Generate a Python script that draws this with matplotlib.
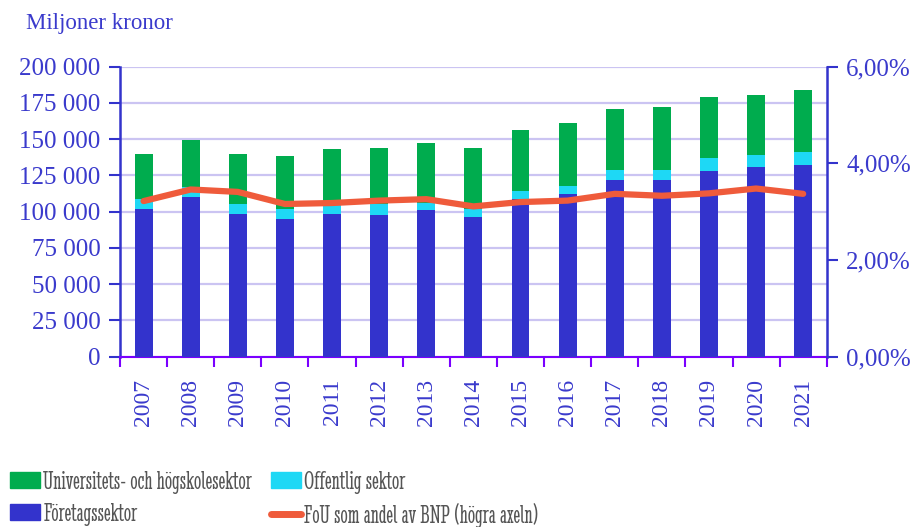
import matplotlib
matplotlib.use("Agg")
import matplotlib.pyplot as plt
import numpy as np
from matplotlib.lines import Line2D
from matplotlib.patches import Patch
from matplotlib.ticker import FuncFormatter, MultipleLocator, FixedLocator

years = ["2007", "2008", "2009", "2010", "2011", "2012", "2013", "2014",
         "2015", "2016", "2017", "2018", "2019", "2020", "2021"]
foretag = [101900, 110300, 98600, 95000, 98600, 97700, 101200, 96300,
           109000, 112000, 121800, 121800, 128300, 130600, 132400]
offentlig = [6900, 6900, 6700, 6900, 6300, 7600, 5000, 5400,
             5300, 5700, 6700, 6700, 8500, 8300, 8600]
universitet = [30800, 32000, 34300, 36300, 38300, 38800, 41200, 42300,
               42000, 43300, 42500, 43700, 42300, 41800, 42900]
bnp_andel = [3.22, 3.46, 3.41, 3.16, 3.18, 3.23, 3.26, 3.11,
             3.20, 3.23, 3.37, 3.33, 3.38, 3.48, 3.37]

C_BLUE = "#3333cc"
C_CYAN = "#1ed8f5"
C_GREEN = "#00ac4e"
C_LINE = "#ef5b3b"
C_AX = "#3333cc"
C_GRID = "#cbc4f2"
C_TXT = "#3a3acc"
C_LEG = "#555555"

plt.rcParams['font.family'] = ['Liberation Serif', 'DejaVu Serif']

fig = plt.figure(figsize=(9.19, 5.27), dpi=100)
ax = fig.add_axes([0.1306, 0.3231, 0.7690, 0.5503])
x = np.arange(len(years))
w = 0.38
f = np.array(foretag)
o = np.array(offentlig)
u = np.array(universitet)
ax.bar(x, f, w, color=C_BLUE, zorder=3, label="Företagssektor")
ax.bar(x, o, w, bottom=f, color=C_CYAN, zorder=3, label="Offentlig sektor")
ax.bar(x, u, w, bottom=f + o, color=C_GREEN, zorder=3,
       label="Universitets- och högskolesektor")

ax.set_xlim(-0.5, len(years) - 0.5)
ax.set_ylim(0, 200000)
ax.yaxis.set_major_locator(MultipleLocator(25000))
ax.yaxis.set_major_formatter(FuncFormatter(lambda v, p: f"{int(v):,}".replace(",", " ")))
ax.grid(axis="y", color=C_GRID, linewidth=1.6, zorder=0)
ax.set_axisbelow(True)

ax.set_xticks(x)
ax.set_xticklabels(years, rotation=90)
ax.xaxis.set_minor_locator(FixedLocator(np.arange(-0.5, len(years), 1.0)))
ax.tick_params(axis="x", which="major", length=0, labelsize=17, colors=C_TXT, pad=16)
ax.tick_params(axis="x", which="minor", length=7, width=1.5, color="#7a00ff", direction="out")
ax.tick_params(axis="y", length=8, width=1.5, color=C_AX, labelsize=18, labelcolor=C_TXT,
               direction="out", pad=6)
for s in ["top", "right"]:
    ax.spines[s].set_visible(False)
ax.spines["left"].set_color(C_AX)
ax.spines["left"].set_linewidth(1.8)
ax.spines["bottom"].set_color("#7a00ff")
ax.spines["bottom"].set_linewidth(1.5)

ax2 = ax.twinx()
ax2.plot(x, bnp_andel, color=C_LINE, linewidth=4.5, zorder=5, solid_capstyle="round")
ax2.set_ylim(0, 6)
ax2.yaxis.set_major_locator(MultipleLocator(2))
ax2.yaxis.set_major_formatter(FuncFormatter(lambda v, p: f"{v:.2f}".replace(".", ",") + "%"))
ax2.tick_params(axis="y", length=8, width=1.5, color=C_AX, labelsize=18, labelcolor=C_TXT,
                direction="out", pad=6)
for s in ["top", "left", "bottom"]:
    ax2.spines[s].set_visible(False)
ax2.spines["right"].set_color(C_AX)
ax2.spines["right"].set_linewidth(1.8)

fig.text(26 / 919, 1 - 23 / 527, "Miljoner kronor", fontsize=16.5, color=C_TXT,
         ha="left", va="center")

handles = [Patch(color=C_GREEN), Patch(color=C_BLUE), Patch(color=C_CYAN),
           Line2D([0], [0], color=C_LINE, linewidth=5, solid_capstyle="round")]
labels = ["Universitets- och högskolesektor", "Företagssektor", "Offentlig sektor",
          "FoU som andel av BNP (högra axeln)"]
leg = fig.legend(handles, labels, ncol=2, loc="upper left",
                 bbox_to_anchor=(10 / 919, 1 - 471 / 527),
                 borderaxespad=0, borderpad=0,
                 frameon=False, prop={"family": ["Stint Ultra Condensed", "Liberation Serif"],
                                      "size": 18.5},
                 handlelength=1.17, handleheight=0.57,
                 handletextpad=0.12, columnspacing=0.75, labelspacing=0.34,
                 labelcolor=C_LEG)

fig.savefig("out.png", dpi=100)
